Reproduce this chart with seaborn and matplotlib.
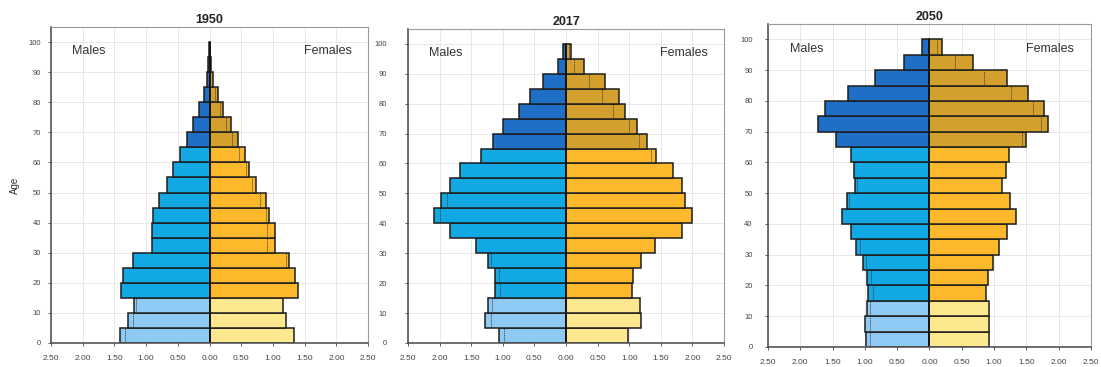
import matplotlib
matplotlib.use("Agg")
import matplotlib.pyplot as plt
import numpy as np
import pandas as pd
import seaborn as sns

# Five-year age groups, 0-4 ... 95-99
age_starts = list(range(0, 100, 5))
years = ["1950", "2017", "2050"]

# Share of total population (%) by age group, bottom to top
males_1950 = [1.41, 1.29, 1.19, 1.39, 1.36, 1.20, 0.91, 0.91, 0.89, 0.80,
              0.67, 0.57, 0.47, 0.36, 0.26, 0.16, 0.08, 0.04, 0.02, 0.01]
females_1950 = [1.33, 1.20, 1.16, 1.39, 1.35, 1.25, 1.03, 1.04, 0.94, 0.89,
                0.73, 0.63, 0.56, 0.45, 0.34, 0.22, 0.13, 0.06, 0.03, 0.01]

males_2017 = [1.06, 1.28, 1.24, 1.13, 1.13, 1.23, 1.43, 1.84, 2.09, 1.98,
              1.84, 1.67, 1.34, 1.16, 0.99, 0.74, 0.57, 0.37, 0.13, 0.04]
females_2017 = [0.98, 1.18, 1.17, 1.05, 1.06, 1.18, 1.41, 1.83, 2.00, 1.89,
                1.83, 1.69, 1.42, 1.28, 1.12, 0.94, 0.84, 0.62, 0.28, 0.08]

males_2050 = [0.98, 1.00, 0.96, 0.95, 0.96, 1.03, 1.13, 1.22, 1.36, 1.28,
              1.16, 1.17, 1.22, 1.44, 1.73, 1.61, 1.26, 0.84, 0.40, 0.12]
females_2050 = [0.92, 0.92, 0.92, 0.88, 0.90, 0.98, 1.07, 1.20, 1.34, 1.24,
                1.12, 1.18, 1.23, 1.50, 1.83, 1.77, 1.52, 1.20, 0.67, 0.19]

males = [males_1950, males_2017, males_2050]
females = [females_1950, females_2017, females_2050]

group_names = ["0-14", "15-64", "65+"]
male_palette = {"0-14": "#8ecaf3", "15-64": "#12a8e4", "65+": "#1f6fc6"}
female_palette = {"0-14": "#fde78f", "15-64": "#fbb92b", "65+": "#d3a02e"}

x_ticks = [-2.5, -2.0, -1.5, -1.0, -0.5, 0.0, 0.5, 1.0, 1.5, 2.0, 2.5]
y_ticks = list(range(0, 101, 10))

# axes boxes in figure fractions and y tick label padding per panel
boxes = [
    [0.0463, 0.0654, 0.288, 0.861],
    [0.3706, 0.0654, 0.287, 0.856],
    [0.6975, 0.0545, 0.2934, 0.880],
]
ytick_pads = [5, 13, 9]

sns.set_theme(style="white")
plt.rcParams["font.family"] = ["Liberation Sans", "DejaVu Sans"]

fig = plt.figure(figsize=(11.01, 3.67), dpi=100)


def age_group(start):
    if start < 15:
        return "0-14"
    if start < 65:
        return "15-64"
    return "65+"


for i, year in enumerate(years):
    ax = fig.add_axes(boxes[i])
    df = pd.DataFrame({
        "age": [a + 2.5 for a in age_starts],
        "male": males[i],
        "female": females[i],
        "group": [age_group(a) for a in age_starts],
    })
    df["male_neg"] = -df["male"]

    ax.set_axisbelow(True)
    ax.grid(True, color="#e4e4e4", linewidth=0.6)

    common = dict(y="age", hue="group", hue_order=group_names, orient="y",
                  native_scale=True, dodge=False, width=1.0, errorbar=None,
                  legend=False, edgecolor="#1d1d1d", linewidth=1.1, ax=ax,
                  saturation=1)
    sns.barplot(data=df, x="male_neg", palette=male_palette, **common)
    sns.barplot(data=df, x="female", palette=female_palette, **common)

    # dotted marks: the other sex's value drawn inside the longer bar
    for _, row in df.iterrows():
        lo, hi = row["age"] - 2.5, row["age"] + 2.5
        if row["female"] < row["male"] - 0.02:
            ax.vlines(-row["female"], lo, hi, colors="#3a3a3a",
                      linestyles=(0, (1, 1)), linewidth=0.7)
        elif row["male"] < row["female"] - 0.02:
            ax.vlines(row["male"], lo, hi, colors="#3a3a3a",
                      linestyles=(0, (1, 1)), linewidth=0.7)

    ax.vlines(0, 0, 100, colors="#111111", linewidth=1.2)

    ax.set_xlim(-2.5, 2.5)
    ax.set_ylim(0, 105)
    ax.set_xticks(x_ticks)
    ax.set_xticklabels([f"{abs(v):.2f}" for v in x_ticks])
    ax.set_yticks(y_ticks)
    ax.set_yticklabels([str(v) for v in y_ticks])
    ax.tick_params(axis="x", labelsize=6, colors="#444444", length=2.5,
                   width=0.6, direction="out", pad=6, bottom=True)
    ax.tick_params(axis="y", labelsize=5.5, colors="#444444", length=2,
                   width=0.6, direction="out", pad=ytick_pads[i], left=True)
    ax.set_xlabel("")
    ax.set_ylabel("")

    for side in ["left", "bottom"]:
        ax.spines[side].set_color("#555555")
        ax.spines[side].set_linewidth(1.2)
    for side in ["top", "right"]:
        ax.spines[side].set_color("#9a9a9a")
        ax.spines[side].set_linewidth(0.8)

    ax.set_title(year, fontsize=9, fontweight="bold", color="#222222", pad=3)
    ax.text(-1.9, 97, "Males", ha="center", va="center", fontsize=9,
            color="#333333")
    ax.text(1.86, 97, "Females", ha="center", va="center", fontsize=9,
            color="#333333")

    if i == 0:
        ax.set_ylabel("Age", fontsize=7, color="#333333", labelpad=6)

fig.savefig("out.png", dpi=100)
